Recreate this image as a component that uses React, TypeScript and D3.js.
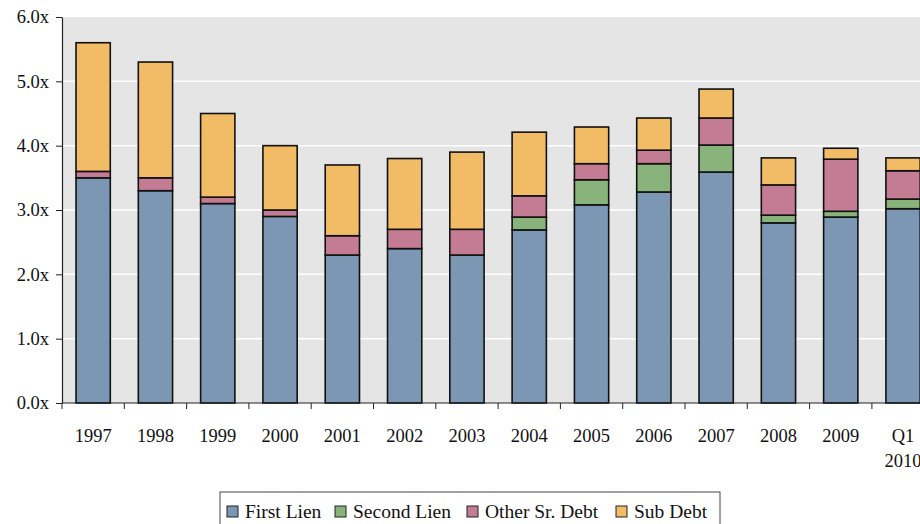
import { useEffect, useRef } from "react";
import * as d3 from "d3";

const years = ["1997", "1998", "1999", "2000", "2001", "2002", "2003", "2004", "2005", "2006", "2007", "2008", "2009", "Q1 2010"];
const firstLien = [3.5, 3.3, 3.1, 2.9, 2.3, 2.4, 2.3, 2.69, 3.08, 3.28, 3.59, 2.8, 2.89, 3.02];
const secondLien = [0, 0, 0, 0, 0, 0, 0, 0.2, 0.39, 0.44, 0.42, 0.12, 0.09, 0.15];
const otherSr = [0.1, 0.2, 0.1, 0.1, 0.3, 0.3, 0.4, 0.33, 0.25, 0.21, 0.42, 0.47, 0.81, 0.44];
const subDebt = [2.0, 1.8, 1.3, 1.0, 1.1, 1.1, 1.2, 0.99, 0.57, 0.5, 0.45, 0.42, 0.17, 0.2];
const seriesNames = ["First Lien", "Second Lien", "Other Sr. Debt", "Sub Debt"];
const colors = ["#7b97b4", "#88b37b", "#c47b94", "#f2bb66"];
const yTicks = [0, 1, 2, 3, 4, 5, 6];

export default function App() {
  const svgRef = useRef<SVGSVGElement>(null);

  useEffect(() => {
    if (!svgRef.current) return;
    const root = d3.select(svgRef.current);
    root.selectAll("*").remove();

    const left = 62;
    const top = 17;
    const bottom = 403;
    const bandW = 62.3;
    const right = left + bandW * years.length;
    const font = "Liberation Serif";
    const fs = 18.5;

    const x = d3.scaleBand().domain(years).range([left, right]).paddingInner(0.45).paddingOuter(0.225);
    const y = d3.scaleLinear().domain([0, 6]).range([bottom, top]);

    const rows = years.map((yr, i) => ({
      year: yr,
      "First Lien": firstLien[i],
      "Second Lien": secondLien[i],
      "Other Sr. Debt": otherSr[i],
      "Sub Debt": subDebt[i],
    }));
    const stacked = d3.stack<any>().keys(seriesNames)(rows);

    // plot background
    root.append("rect")
      .attr("x", left).attr("y", top)
      .attr("width", right - left).attr("height", bottom - top)
      .attr("fill", "#e5e5e5");

    // gridlines
    root.append("g").selectAll("line")
      .data(yTicks.filter((t) => t > 0 && t < 6))
      .enter().append("line")
      .attr("x1", left).attr("x2", right)
      .attr("y1", (d) => y(d)).attr("y2", (d) => y(d))
      .attr("stroke", "#ffffff").attr("stroke-width", 1.5);

    // bars
    stacked.forEach((layer, k) => {
      root.append("g").selectAll("rect")
        .data(layer.filter((d) => d[1] - d[0] > 0))
        .enter().append("rect")
        .attr("x", (d) => x(d.data.year)!)
        .attr("width", x.bandwidth())
        .attr("y", (d) => y(d[1]))
        .attr("height", (d) => y(d[0]) - y(d[1]))
        .attr("fill", colors[k])
        .attr("stroke", "#111")
        .attr("stroke-width", 1.6);
    });

    // y axis
    const yAxis = root.append("g").attr("transform", `translate(${left},0)`)
      .call(d3.axisLeft(y).tickValues(yTicks).tickSize(6).tickSizeOuter(0).tickFormat((d) => `${d3.format(".1f")(d as number)}x`));
    yAxis.attr("font-family", null).attr("font-size", null);
    yAxis.select(".domain").attr("stroke", "#222").attr("stroke-width", 1.2);
    yAxis.selectAll(".tick line").attr("stroke", "#222");
    yAxis.selectAll("text")
      .style("font-family", font).style("font-size", `${fs}px`).attr("fill", "#111")
      .attr("x", -13);

    // x axis line and ticks at band boundaries
    root.append("line")
      .attr("x1", left).attr("x2", right).attr("y1", bottom).attr("y2", bottom)
      .attr("stroke", "#222").attr("stroke-width", 1.2);
    root.append("g").selectAll("line")
      .data(d3.range(years.length + 1))
      .enter().append("line")
      .attr("x1", (i) => left + i * bandW).attr("x2", (i) => left + i * bandW)
      .attr("y1", bottom).attr("y2", bottom + 6)
      .attr("stroke", "#222");

    const xl = root.append("g").selectAll("text")
      .data(years)
      .enter().append("text")
      .attr("x", (d) => x(d)! + x.bandwidth() / 2)
      .attr("y", 442)
      .attr("text-anchor", "middle")
      .style("font-family", font).style("font-size", `${fs}px`).attr("fill", "#111");
    xl.each(function (d) {
      const parts = d.split(" ");
      const t = d3.select(this);
      parts.forEach((p, i) => {
        t.append("tspan").attr("x", x(d)! + x.bandwidth() / 2).attr("dy", i === 0 ? 0 : 25).text(p);
      });
    });

    // legend
    const lg = root.append("g");
    lg.append("rect")
      .attr("x", 220).attr("y", 492).attr("width", 500).attr("height", 40)
      .attr("fill", "#fff").attr("stroke", "#444").attr("stroke-width", 1);
    const legendX = [227, 335, 467, 616];
    seriesNames.forEach((name, i) => {
      lg.append("rect")
        .attr("x", legendX[i]).attr("y", 506).attr("width", 11).attr("height", 11)
        .attr("fill", colors[i]).attr("stroke", "#222").attr("stroke-width", 1);
      lg.append("text")
        .attr("x", legendX[i] + 18).attr("y", 518)
        .style("font-family", font).style("font-size", "19.5px").attr("fill", "#111")
        .text(name);
    });
  }, []);

  return (
    <svg
      ref={svgRef}
      width={920}
      height={524}
      style={{ position: "absolute", left: 0, top: 0, background: "#fff" }}
    />
  );
}
